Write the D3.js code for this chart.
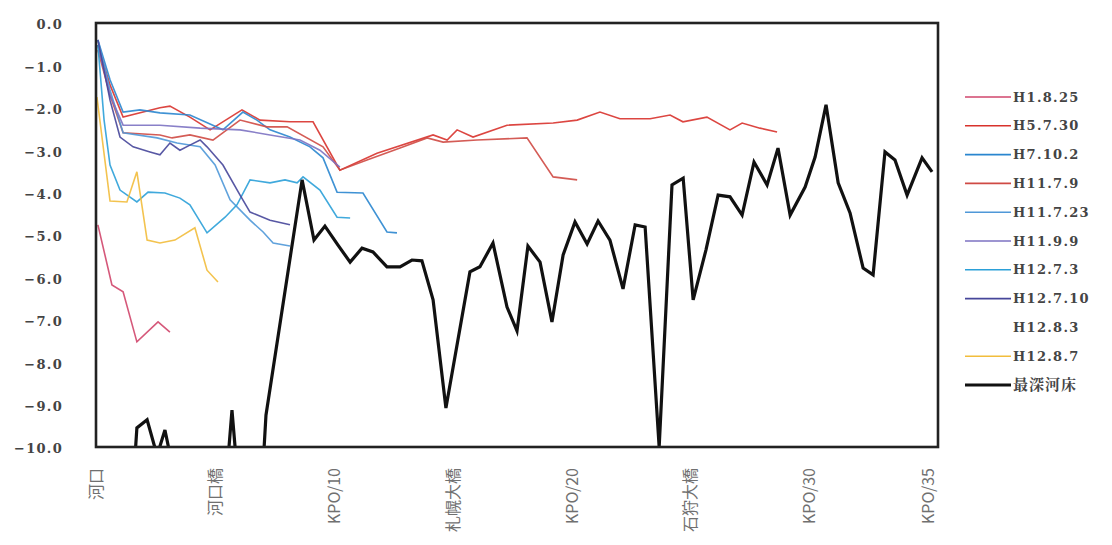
<!DOCTYPE html>
<html>
<head>
<meta charset="utf-8">
<script src="https://cdn.jsdelivr.net/npm/d3@7"></script>
<style>
  html, body { margin: 0; padding: 0; background: #fff; }
  svg { display: block; }
</style>
</head>
<body>
<svg id="chart" width="1112" height="545"></svg>
<script>
// River-bed elevation profiles (m) against distance from the river mouth (km)

const yTicks = [0, -1, -2, -3, -4, -5, -6, -7, -8, -9, -10];
const xTickKm = [0, 5, 10, 15, 20, 25, 30, 35];
const xTickLabels = ["河口", "河口橋", "KPO/10", "札幌大橋", "KPO/20", "石狩大橋", "KPO/30", "KPO/35"];

const seriesNames = ["H1.8.25", "H5.7.30", "H7.10.2", "H11.7.9", "H11.7.23", "H11.9.9",
                     "H12.7.3", "H12.7.10", "H12.8.3", "H12.8.7", "最深河床"];

const km_H1_8_25   = [0.08, 0.67, 1.14, 1.72, 2.61, 3.11];
const elev_H1_8_25 = [-4.76, -6.18, -6.34, -7.52, -7.05, -7.29];

const km_H5_7_30   = [0.08, 0.59, 1.14, 2.69, 3.11, 3.95, 4.80, 6.14, 6.90, 8.16, 9.13, 10.26, 11.82, 14.18, 14.77, 15.19, 15.86, 17.29, 19.23, 20.24, 21.20, 22.04, 23.31, 24.15, 24.69, 25.70, 26.67, 27.18, 27.93, 28.65];
const elev_H5_7_30 = [-0.52, -1.46, -2.22, -2.00, -1.96, -2.22, -2.52, -2.05, -2.29, -2.33, -2.33, -3.47, -3.07, -2.64, -2.76, -2.52, -2.69, -2.41, -2.36, -2.29, -2.10, -2.26, -2.26, -2.17, -2.33, -2.22, -2.52, -2.36, -2.48, -2.57];

const km_H7_10_2   = [0.08, 0.59, 1.14, 1.85, 2.69, 3.95, 5.34, 6.18, 6.77, 7.32, 8.16, 9.00, 9.55, 10.14, 11.23, 12.24, 12.66];
const elev_H7_10_2 = [-0.40, -1.34, -2.10, -2.05, -2.12, -2.17, -2.52, -2.10, -2.29, -2.52, -2.69, -2.92, -3.18, -3.99, -4.01, -4.93, -4.95];

const km_H11_7_9   = [0.08, 0.59, 1.14, 2.69, 3.20, 3.95, 4.92, 6.06, 7.19, 8.04, 9.55, 10.26, 11.40, 12.79, 13.93, 14.60, 16.03, 18.13, 19.23, 20.24];
const elev_H11_7_9 = [-0.64, -1.70, -2.59, -2.64, -2.71, -2.64, -2.76, -2.29, -2.45, -2.45, -2.92, -3.47, -3.23, -2.95, -2.71, -2.81, -2.76, -2.71, -3.63, -3.70];

const km_H11_7_23   = [0.08, 0.59, 1.14, 2.57, 3.41, 4.38, 5.01, 5.64, 6.48, 7.03, 7.45, 8.16];
const elev_H11_7_23 = [-0.40, -1.58, -2.59, -2.71, -2.83, -2.92, -3.35, -4.17, -4.65, -4.93, -5.19, -5.26];

const km_H11_9_9   = [0.08, 0.59, 1.14, 2.69, 4.38, 6.06, 7.32, 8.58, 9.42, 10.26];
const elev_H11_9_9 = [-0.52, -1.70, -2.41, -2.41, -2.48, -2.52, -2.64, -2.76, -3.00, -3.40];

const km_H12_7_3   = [0.08, 0.34, 0.59, 1.01, 1.72, 2.19, 2.90, 3.53, 3.95, 4.67, 5.43, 5.93, 6.48, 7.32, 7.95, 8.46, 8.71, 9.42, 10.14, 10.69];
const elev_H12_7_3 = [-0.52, -2.29, -3.35, -3.94, -4.22, -3.99, -4.01, -4.13, -4.29, -4.95, -4.58, -4.29, -3.70, -3.77, -3.70, -3.77, -3.63, -3.94, -4.58, -4.60];

const km_H12_7_10   = [0.08, 0.59, 1.01, 1.56, 2.27, 2.69, 3.11, 3.53, 3.95, 4.38, 4.67, 5.34, 6.06, 6.48, 7.32, 8.16];
const elev_H12_7_10 = [-0.40, -1.82, -2.69, -2.92, -3.04, -3.11, -2.83, -3.00, -2.88, -2.76, -2.92, -3.35, -4.06, -4.46, -4.65, -4.76];

// drawn in white, so it only shows up in the legend
const km_H12_8_3   = [];
const elev_H12_8_3 = [];

const km_H12_8_7   = [0.04, 0.59, 1.30, 1.72, 2.15, 2.69, 3.32, 4.16, 4.67, 5.13];
const elev_H12_8_7 = [-1.75, -4.20, -4.22, -3.51, -5.12, -5.19, -5.12, -4.83, -5.83, -6.11];

// deepest bed; stretches below -10 m fall outside the plot and are clipped
const km_deepest   = [0.0, 1.55, 1.72, 2.15, 2.57, 2.90, 3.16, 3.60, 5.45, 5.72, 6.00, 6.95, 7.15, 8.67, 9.17, 9.63, 10.18, 10.69, 11.19, 11.65, 12.24, 12.79, 13.29, 13.71, 14.18, 14.72, 15.73, 16.15, 16.70, 17.29, 17.71, 18.17, 18.68, 19.18, 19.65, 20.15, 20.66, 21.12, 21.62, 22.17, 22.68, 23.10, 23.69, 24.23, 24.70, 25.12, 25.66, 26.17, 26.67, 27.18, 27.68, 28.23, 28.69, 29.20, 29.83, 30.25, 30.71, 31.22, 31.72, 32.27, 32.69, 33.19, 33.61, 34.12, 34.75, 35.17];
const elev_deepest = [-11.0, -11.0, -9.55, -9.36, -10.2, -9.60, -10.3, -11.0, -11.0, -9.13, -11.0, -11.2, -9.25, -3.70, -5.12, -4.79, -5.24, -5.64, -5.31, -5.40, -5.75, -5.75, -5.59, -5.61, -6.53, -9.08, -5.87, -5.75, -5.19, -6.70, -7.26, -5.26, -5.64, -7.05, -5.47, -4.69, -5.21, -4.67, -5.12, -6.27, -4.76, -4.81, -10.0, -3.82, -3.66, -6.53, -5.35, -4.06, -4.10, -4.53, -3.28, -3.82, -2.95, -4.53, -3.87, -3.16, -1.93, -3.77, -4.48, -5.78, -5.94, -3.04, -3.23, -4.06, -3.18, -3.51];

const seriesColors = ["#d0466c", "#d8322c", "#2a86cf", "#cf4a44", "#4f98d8", "#7c72c2",
                      "#2ba0d8", "#46469a", "#ffffff", "#f2bd3c", "#111111"];
const seriesWidths = [1.6, 1.6, 1.6, 1.6, 1.6, 1.6, 1.6, 1.6, 1.6, 1.6, 3.2];

const seriesData = [
  [km_H1_8_25, elev_H1_8_25], [km_H5_7_30, elev_H5_7_30], [km_H7_10_2, elev_H7_10_2],
  [km_H11_7_9, elev_H11_7_9], [km_H11_7_23, elev_H11_7_23], [km_H11_9_9, elev_H11_9_9],
  [km_H12_7_3, elev_H12_7_3], [km_H12_7_10, elev_H12_7_10], [km_H12_8_3, elev_H12_8_3],
  [km_H12_8_7, elev_H12_8_7], [km_deepest, elev_deepest]
].map(([k, e], i) => ({
  name: seriesNames[i],
  color: seriesColors[i],
  width: seriesWidths[i],
  points: k.map((v, j) => ({ km: v, elev: e[j] }))
}));

const svg = d3.select("#chart");
const plot = { left: 96, right: 938, top: 23, bottom: 447 };

const x = d3.scaleLinear().domain([0, 35.42]).range([plot.left, plot.right]);
const y = d3.scaleLinear().domain([0, -10]).range([plot.top, plot.bottom]);

svg.append("defs").append("clipPath").attr("id", "plotClip")
  .append("rect")
  .attr("x", plot.left).attr("y", plot.top)
  .attr("width", plot.right - plot.left).attr("height", plot.bottom - plot.top);

const line = d3.line().x(d => x(d.km)).y(d => y(d.elev));

const lines = svg.append("g").attr("clip-path", "url(#plotClip)");
lines.selectAll("path")
  .data(seriesData.filter(s => s.points.length))
  .join("path")
  .attr("d", s => line(s.points))
  .attr("fill", "none")
  .attr("stroke", s => s.color)
  .attr("stroke-width", s => s.width)
  .attr("stroke-linejoin", "miter")
  .attr("opacity", s => s.width > 2 ? 1 : 0.9);

// plot frame
svg.append("rect")
  .attr("x", plot.left).attr("y", plot.top)
  .attr("width", plot.right - plot.left).attr("height", plot.bottom - plot.top)
  .attr("fill", "none").attr("stroke", "#222").attr("stroke-width", 2.6);

const serifFont = "'DejaVu Serif', 'Liberation Serif', serif";

// y axis labels
const yAxis = d3.axisLeft(y).tickValues(yTicks).tickSize(0).tickPadding(33)
  .tickFormat(d3.format(".1f"));
const gy = svg.append("g").attr("transform", `translate(${plot.left},0)`).call(yAxis);
gy.select(".domain").remove();
gy.selectAll("text")
  .attr("font-family", serifFont)
  .attr("font-weight", "bold")
  .attr("font-size", 13)
  .attr("letter-spacing", "1.3px")
  .attr("fill", "#444")
  .attr("dy", "0.45em");

// x axis labels, rotated
const xAxis = d3.axisBottom(x).tickValues(xTickKm).tickSize(0)
  .tickFormat((d, i) => xTickLabels[i]);
const gx = svg.append("g").attr("transform", `translate(0,${plot.bottom})`).call(xAxis);
gx.select(".domain").remove();
gx.selectAll("text")
  .attr("font-family", "'Noto Sans CJK JP', sans-serif")
  .attr("font-size", 16)
  .attr("fill", "#707070")
  .attr("text-anchor", "end")
  .attr("transform", "translate(0,21) rotate(-90)")
  .attr("x", 0).attr("y", 0).attr("dy", "0.35em");

// legend
const legend = svg.append("g").attr("transform", "translate(965,97)");
const rows = legend.selectAll("g").data(seriesData).join("g")
  .attr("transform", (d, i) => `translate(0,${i * 28.8})`);
rows.append("line")
  .attr("x1", 0).attr("x2", 46).attr("y1", 0).attr("y2", 0)
  .attr("stroke", d => d.color)
  .attr("stroke-width", d => d.width > 2 ? 3.2 : 1.6);
rows.append("text")
  .attr("x", 48).attr("y", 0).attr("dy", "0.36em")
  .attr("font-family", d => /^H/.test(d.name) ? serifFont : "'Noto Serif CJK JP', 'Noto Sans CJK JP', serif")
  .attr("font-weight", "bold")
  .attr("font-size", d => /^H/.test(d.name) ? 13 : 15)
  .attr("letter-spacing", d => /^H/.test(d.name) ? "1.3px" : "1px")
  .attr("fill", "#444")
  .text(d => d.name);
</script>
</body>
</html>
